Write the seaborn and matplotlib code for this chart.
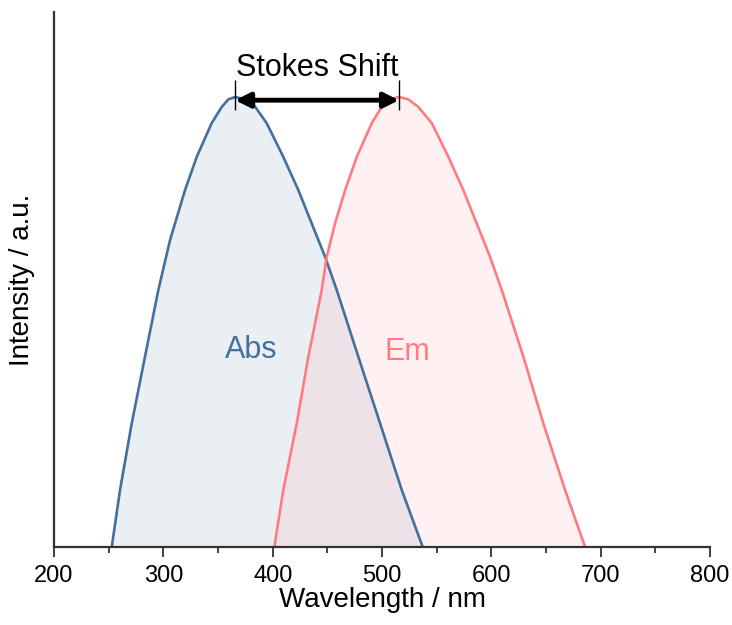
import numpy as np
import pandas as pd
import seaborn as sns
from matplotlib import pyplot as plt

# absorption spectrum (normalised)
abs_nm = [252.8, 260.4, 271.1, 283.2, 295.4, 306.1, 319.8, 330.5, 344.2, 353.4, 359.5, 365.6,
          373.5, 382.3, 394.5, 409.7, 423.5, 435.7, 447.9, 458.6, 478.3, 498.2, 518, 537.2]
abs_int = [0, 0.127, 0.275, 0.423, 0.571, 0.682, 0.793, 0.867, 0.942, 0.978, 0.995, 1.0,
           0.996, 0.984, 0.942, 0.867, 0.793, 0.719, 0.645, 0.571, 0.423, 0.275, 0.127, 0]

# emission spectrum (normalised)
em_nm = [401.5, 409.7, 422, 432.6, 444.8, 449.4, 457, 466.2, 476.9, 490.6, 499.7, 507.5, 515.5,
         524, 533.2, 545.5, 560.7, 574.4, 586.6, 598.8, 609.5, 629.3, 647.5, 667.4, 685.7]
em_int = [0, 0.127, 0.275, 0.423, 0.571, 0.645, 0.719, 0.793, 0.867, 0.942, 0.978, 0.995, 1.0,
          0.995, 0.978, 0.942, 0.867, 0.793, 0.719, 0.645, 0.571, 0.423, 0.275, 0.127, 0]

abs_color = "#44709E"
em_color = "#FF7B82"

sns.set_style("ticks")
plt.rcParams['font.family'] = ['Liberation Sans', 'DejaVu Sans']
plt.rcParams['text.color'] = 'black'
plt.rcParams['axes.labelcolor'] = 'black'
plt.rcParams['xtick.color'] = '#333333'
plt.rcParams['xtick.labelcolor'] = 'black'

df_abs = pd.DataFrame({'nm': abs_nm, 'I': abs_int})
df_em = pd.DataFrame({'nm': em_nm, 'I': em_int})

fig = plt.figure(figsize=(7.32, 6.25), dpi=100)
ax = fig.add_axes([0.0738, 0.1248, 0.8962, 0.856])

ax.fill_between(df_abs['nm'], df_abs['I'], color=abs_color, alpha=0.11, lw=0)
ax.fill_between(df_em['nm'], df_em['I'], color=em_color, alpha=0.11, lw=0)
sns.lineplot(data=df_abs, x='nm', y='I', color=abs_color, lw=1.9, ax=ax)
sns.lineplot(data=df_em, x='nm', y='I', color=em_color, lw=1.9, ax=ax)

# Stokes shift between the two maxima
p_abs = df_abs['nm'][df_abs['I'].idxmax()]
p_em = df_em['nm'][df_em['I'].idxmax()]
ax.annotate("", xy=(p_abs, 0.993), xytext=(p_em, 0.993),
            arrowprops=dict(arrowstyle='<|-|>', color='black', lw=3.5,
                            mutation_scale=22, shrinkA=0, shrinkB=0))
ax.vlines([p_abs, p_em], 0.971, 1.038, color='black', lw=1)
ax.text((p_abs + p_em) / 2, 1.064, "Stokes Shift", ha='center', va='center', fontsize=22)

ax.text(380, 0.438, "Abs", color=abs_color, ha='center', va='center', fontsize=22)
ax.text(523, 0.433, "Em", color=em_color, ha='center', va='center', fontsize=22)

ax.set_xlim(200, 800)
ax.set_ylim(0, 1.189)
ax.set_xticks(np.arange(200, 801, 100))
ax.set_xticks(np.arange(250, 800, 100), minor=True)
ax.set_yticks([])
ax.tick_params(axis='x', which='major', direction='out', length=7, width=1.3, labelsize=17, pad=6)
ax.tick_params(axis='x', which='minor', direction='out', length=4, width=1.3)
ax.set_xlabel("Wavelength / nm", fontsize=20, labelpad=0)
ax.set_ylabel("Intensity / a.u.", fontsize=20, labelpad=14)

sns.despine(ax=ax)
for s in ['left', 'bottom']:
    ax.spines[s].set_linewidth(1.6)
    ax.spines[s].set_color('#333333')

fig.savefig("out.png", dpi=100)
